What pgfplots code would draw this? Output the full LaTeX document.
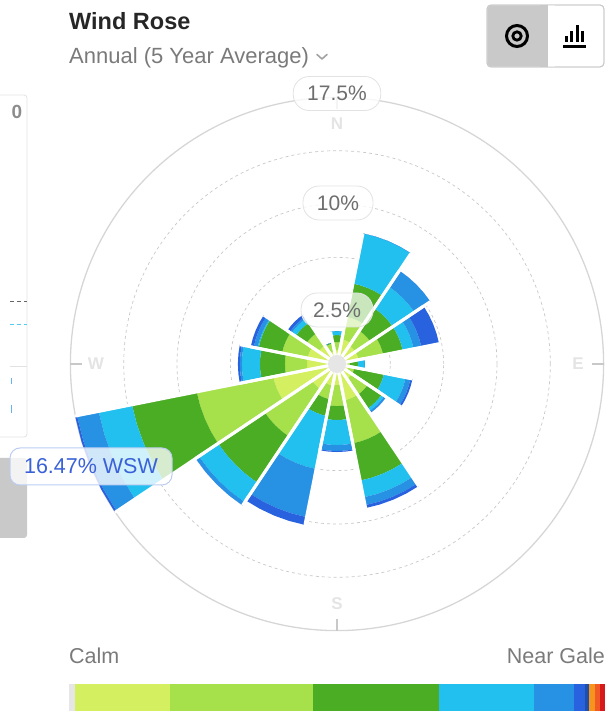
\documentclass[border=0pt]{standalone}
\usepackage{pgfplots}
\pgfplotsset{compat=1.18}
\usepackage{fontspec}
\setmainfont{Liberation Sans}
\definecolor{cA}{HTML}{D4F060}
\definecolor{cB}{HTML}{A6E04A}
\definecolor{cC}{HTML}{4AAD24}
\definecolor{cD}{HTML}{22C0EE}
\definecolor{cE}{HTML}{2792E4}
\definecolor{cF}{HTML}{2962DE}
\definecolor{cNavy}{HTML}{1F4FA8}
\definecolor{cOr}{HTML}{F7941D}
\definecolor{cOr2}{HTML}{F15A24}
\definecolor{cRed}{HTML}{D7191C}
\definecolor{calmgray}{HTML}{E6E6E6}
\definecolor{ringgray}{HTML}{C8C8C8}
\definecolor{outergray}{HTML}{D6D6D6}
\definecolor{txtgray}{HTML}{6E6E6E}
\definecolor{subgray}{HTML}{7A7A7A}
\definecolor{tipblue}{HTML}{3A62D8}
\definecolor{tipborder}{HTML}{BCCDF3}
\definecolor{lblborder}{HTML}{E2E2E2}
\definecolor{compass}{HTML}{E4E4E4}
\definecolor{btngray}{HTML}{C9C9C9}

% one stacked segment: #1 compass angle, #2 lower, #3 upper, #4 colour
\newcommand{\sector}[4]{%
  \pgfmathsetmacro{\aA}{90-#1-11.25}%
  \pgfmathsetmacro{\aB}{90-#1-5.625}%
  \pgfmathsetmacro{\aC}{90-#1}%
  \pgfmathsetmacro{\aD}{90-#1+5.625}%
  \pgfmathsetmacro{\aE}{90-#1+11.25}%
  \edef\tmp{\noexpand\addplot[data cs=polar, fill=#4, draw=none, forget plot] coordinates {(\aA,#2) (\aA,#3) (\aB,#3) (\aC,#3) (\aD,#3) (\aE,#3) (\aE,#2) (\aD,#2) (\aC,#2) (\aB,#2)} --cycle;}%
  \tmp
}
% one direction: angle, six speed-class values
\newcommand{\rose}[7]{%
  \pgfmathsetmacro{\sA}{#2}%
  \pgfmathsetmacro{\sB}{\sA+#3}%
  \pgfmathsetmacro{\sC}{\sB+#4}%
  \pgfmathsetmacro{\sD}{\sC+#5}%
  \pgfmathsetmacro{\sE}{\sD+#6}%
  \pgfmathsetmacro{\sF}{\sE+#7}%
  \expandafter\xdef\csname tot#1\endcsname{\sF}%
  \sector{#1}{0}{\sA}{cA}%
  \sector{#1}{\sA}{\sB}{cB}%
  \sector{#1}{\sB}{\sC}{cC}%
  \sector{#1}{\sC}{\sD}{cD}%
  \sector{#1}{\sD}{\sE}{cE}%
  \sector{#1}{\sE}{\sF}{cF}%
}
% white separators along both edges of a direction's wedge
\newcommand{\sep}[1]{%
  \pgfmathsetmacro{\aA}{90-#1-11.25}%
  \pgfmathsetmacro{\aE}{90-#1+11.25}%
  \edef\tot{\csname tot#1\endcsname}%
  \edef\tmp{\noexpand\addplot[data cs=polar, white, line width=3pt, forget plot] coordinates {(0,0) (\aA,\tot)};
    \noexpand\addplot[data cs=polar, white, line width=3pt, forget plot] coordinates {(0,0) (\aE,\tot)};}%
  \tmp
}

\begin{document}
\begin{tikzpicture}[x=1pt,y=1pt]
\path[use as bounding box] (0,0) rectangle (605,711);
\clip (0,0) rectangle (605,711);

% header
\node[anchor=base west, inner sep=0, font=\fontsize{23.5}{27}\selectfont\bfseries, text=black!85] at (69,681) {Wind Rose};
\node[anchor=base west, inner sep=0, font=\fontsize{22}{26}\selectfont, text=subgray] at (69,647) {Annual (5 Year Average)};
\draw[subgray!70, line width=1.6pt, line cap=round, line join=round] (317,656.5) -- (322,652) -- (327,656.5);

% buttons
\draw[ringgray, fill=white, rounded corners=4pt, line width=0.8pt] (487,644) rectangle (604,706);
\fill[btngray, rounded corners=4pt] (487.4,644.4) rectangle (550,705.6);
\fill[btngray] (540,644.4) rectangle (547,705.6);
\fill[white] (547,644.4) rectangle (555,705.6);
\draw[ringgray, line width=0.8pt] (547,644) -- (547,706);
\draw[ringgray, rounded corners=4pt, line width=0.8pt] (487,644) rectangle (604,706);
\draw[black, line width=3pt] (517,675) circle[radius=10.5];
\draw[black, line width=2.8pt] (517,675) circle[radius=4.2];
\fill[black] (564.5,669) rectangle (567.5,675);
\fill[black] (570,669) rectangle (573,680);
\fill[black] (575.5,669) rectangle (578.5,686);
\fill[black] (581,669) rectangle (584,680);
\fill[black] (562.5,663) rectangle (586,666);

% left partial card
\draw[lblborder, line width=0.8pt, rounded corners=3pt] (-10,616) rectangle (27,274);
\node[anchor=base east, inner sep=0, font=\fontsize{19}{22}\selectfont\bfseries, text=black!45] at (22.5,592) {0};
\draw[black!60, dashed, dash pattern=on 4pt off 3pt, line width=1pt] (10,409) -- (27,409);
\draw[cD!80, dashed, dash pattern=on 4pt off 3pt, line width=1pt] (10,386) -- (27,386);
\draw[lblborder, line width=0.8pt] (10,345) -- (27,345);
\draw[cE!70, line width=1pt] (11,333) -- (11,327);
\draw[cE!70, line width=1pt] (11,306) -- (11,298);
\fill[btngray, rounded corners=3pt] (-5,253) rectangle (27,173);

% compass letters
\node[font=\fontsize{17}{20}\selectfont\bfseries, text=compass] at (337,587) {N};
\node[font=\fontsize{17}{20}\selectfont\bfseries, text=compass] at (337,107) {S};
\node[font=\fontsize{17}{20}\selectfont\bfseries, text=compass] at (96,347) {W};
\node[font=\fontsize{17}{20}\selectfont\bfseries, text=compass] at (578,347) {E};

\begin{axis}[at={(337pt,347pt)}, anchor=center, x=14.22pt, y=14.22pt,
  xmin=-18.8, xmax=18.8, ymin=-18.8, ymax=18.8, hide axis, clip=false]
\draw[ringgray, line width=0.7pt, dash pattern=on 3pt off 3pt] (axis cs:0,0) circle[radius=53.33pt];
\draw[ringgray, line width=0.7pt, dash pattern=on 3pt off 3pt] (axis cs:0,0) circle[radius=106.66pt];
\draw[ringgray, line width=0.7pt, dash pattern=on 3pt off 3pt] (axis cs:0,0) circle[radius=160pt];
\draw[ringgray, line width=0.7pt, dash pattern=on 3pt off 3pt] (axis cs:0,0) circle[radius=213.3pt];
\draw[outergray, line width=1.3pt] (axis cs:0,0) circle[radius=266.6pt];

\rose{0}{0.98}{0.56}{0.49}{0.28}{0}{0}
\rose{22.5}{1.76}{1.62}{2.39}{3.59}{0}{0}
\rose{45}{1.55}{1.27}{1.90}{1.83}{1.34}{0}
\rose{67.5}{1.55}{1.76}{1.41}{0.77}{0.56}{1.27}
\rose{90}{0.56}{0.35}{0.56}{0.49}{0}{0}
\rose{112.5}{0.84}{0.42}{2.11}{1.55}{0.35}{0.14}
\rose{135}{1.27}{1.34}{1.20}{0.21}{0.14}{0}
\rose{157.5}{2.60}{3.09}{2.67}{1.20}{0.56}{0.21}
\rose{180}{1.48}{1.48}{0.98}{1.76}{0.42}{0.07}
\rose{202.5}{1.55}{0.98}{1.20}{3.80}{3.45}{0.56}
\rose{225}{2.11}{4.01}{3.94}{1.62}{0.28}{0}
\rose{247.5}{4.57}{5.49}{4.64}{2.39}{1.55}{0.14}
\rose{270}{2.11}{1.55}{1.76}{1.27}{0.14}{0.14}
\rose{292.5}{2.11}{1.83}{1.69}{0.07}{0.28}{0.21}
\rose{315}{1.55}{1.05}{0.91}{0.35}{0.14}{0.21}
\rose{337.5}{0.91}{0.56}{0.07}{0}{0}{0}

\sep{0}\sep{22.5}\sep{45}\sep{67.5}\sep{90}\sep{112.5}\sep{135}\sep{157.5}
\sep{180}\sep{202.5}\sep{225}\sep{247.5}\sep{270}\sep{292.5}\sep{315}\sep{337.5}

\fill[calmgray] (axis cs:0,0) circle[radius=9pt];
\end{axis}

% axis ticks at compass points
\draw[ringgray, line width=1.3pt] (337,613.6) -- (337,602);
\draw[ringgray, line width=1.3pt] (337,80.4) -- (337,92);
\draw[ringgray, line width=1.3pt] (70.4,347) -- (82,347);
\draw[ringgray, line width=1.3pt] (603.6,347) -- (592,347);

% ring labels
\tikzset{ringlbl/.style={draw=lblborder, line width=0.8pt, fill=white, fill opacity=0.8, text opacity=1,
  rounded corners=16pt, minimum height=34pt, inner xsep=14pt, text=txtgray,
  font=\fontsize{21}{24}\selectfont}}
\node[ringlbl] at (337,617.5) {17.5\%};
\node[ringlbl] at (338,508) {10\%};
\node[ringlbl, fill opacity=0.7, inner xsep=12pt] at (337,401) {2.5\%};

% tooltip
\node[draw=tipborder, line width=1pt, fill=white, fill opacity=0.78, text opacity=1,
  rounded corners=10pt, minimum height=37pt, minimum width=162pt, text=tipblue,
  font=\fontsize{21.5}{24}\selectfont] at (91,244.5) {16.47\% WSW};

% bottom legend
\node[anchor=base west, inner sep=0, font=\fontsize{21.5}{25}\selectfont, text=subgray] at (69,47) {Calm};
\node[anchor=base east, inner sep=0, font=\fontsize{21.5}{25}\selectfont, text=subgray] at (605,47) {Near Gale};
\fill[calmgray] (69,0) rectangle (75,27);
\fill[cA] (75,0) rectangle (170,27);
\fill[cB] (170,0) rectangle (313,27);
\fill[cC] (313,0) rectangle (439,27);
\fill[cD] (439,0) rectangle (534,27);
\fill[cE] (534,0) rectangle (574,27);
\fill[cF] (574,0) rectangle (585,27);
\fill[cNavy] (585,0) rectangle (589,27);
\fill[cOr] (589,0) rectangle (595,27);
\fill[cOr2] (595,0) rectangle (600,27);
\fill[cRed] (600,0) rectangle (605,27);
\end{tikzpicture}
\end{document}
